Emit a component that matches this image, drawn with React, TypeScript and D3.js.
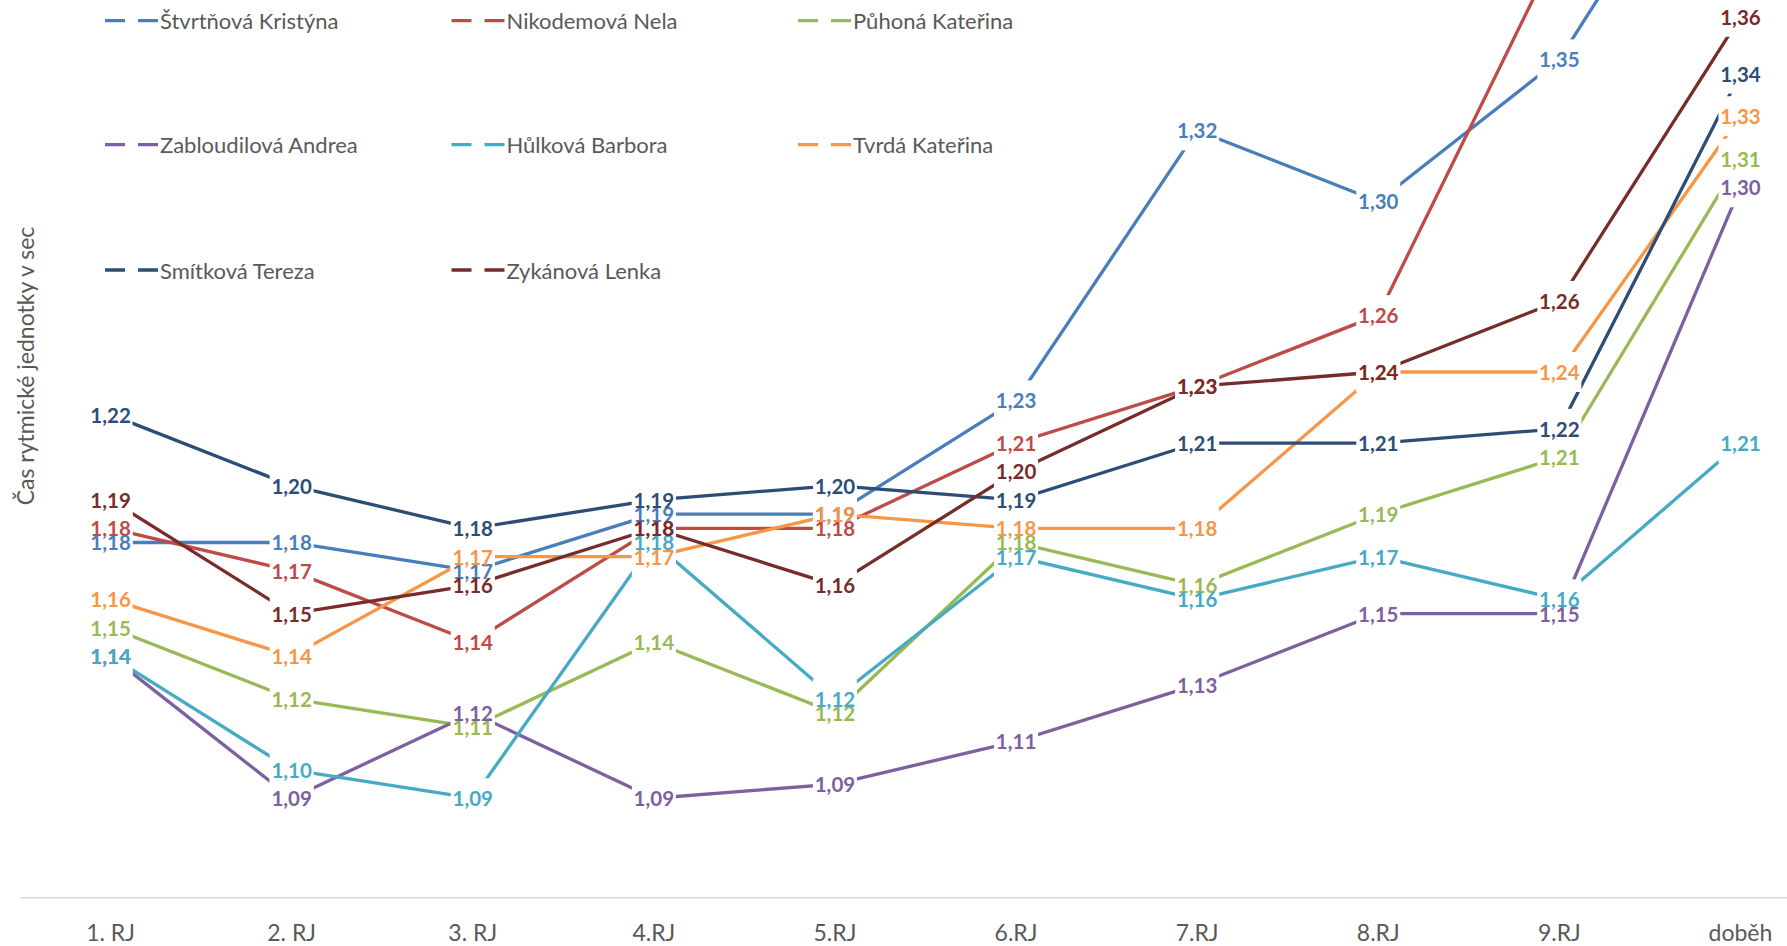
import React from 'react';
import * as d3 from 'd3';

const categories = ["1. RJ", "2. RJ", "3. RJ", "4.RJ", "5.RJ", "6.RJ", "7.RJ", "8.RJ", "9.RJ", "doběh"];

const seriesNames = [
  "Štvrtňová Kristýna",
  "Nikodemová Nela",
  "Půhoná Kateřina",
  "Zabloudilová Andrea",
  "Hůlková Barbora",
  "Tvrdá Kateřina",
  "Smítková Tereza",
  "Zykánová Lenka",
];

const seriesColors = ["#4A7EBB", "#BE4B48", "#98B954", "#7D60A0", "#46AAC5", "#F79646", "#2C4D75", "#772C2A"];

const stvrtnova = [1.175, 1.175, 1.165, 1.185, 1.185, 1.225, 1.32, 1.295, 1.345, 1.445];
const nikodemova = [1.18, 1.165, 1.14, 1.18, 1.18, 1.21, 1.23, 1.255, 1.385, 1.39];
const puhona = [1.145, 1.12, 1.11, 1.14, 1.115, 1.175, 1.16, 1.185, 1.205, 1.31];
const zabloudilova = [1.135, 1.085, 1.115, 1.085, 1.09, 1.105, 1.125, 1.15, 1.15, 1.3];
const hulkova = [1.135, 1.095, 1.085, 1.175, 1.12, 1.17, 1.155, 1.17, 1.155, 1.21];
const tvrda = [1.155, 1.135, 1.17, 1.17, 1.185, 1.18, 1.18, 1.235, 1.235, 1.325];
const smitkova = [1.22, 1.195, 1.18, 1.19, 1.195, 1.19, 1.21, 1.21, 1.215, 1.34];
const zykanova = [1.19, 1.15, 1.16, 1.18, 1.16, 1.2, 1.23, 1.235, 1.26, 1.36];

const seriesValues = [stvrtnova, nikodemova, puhona, zabloudilova, hulkova, tvrda, smitkova, zykanova];

const yDomain = [1.05, 1.4];
const yTitle = "Čas rytmické jednotky v sec";

const W = 1787;
const H = 946;
const FONT = "Lato, 'Open Sans', sans-serif";
const GRAY = "#595959";

function fmt(v: number) {
  const r = Math.round(v * 100 + 1e-6) / 100;
  return r.toFixed(2).replace('.', ',');
}

export default function App() {
  const x = d3.scalePoint<string>().domain(categories).range([20, 1831]).padding(0.5);
  const y = d3.scaleLinear().domain(yDomain).range([897.7, -96.9]);
  const line = d3.line<number>()
    .x((_, i) => x(categories[i]) as number)
    .y((d) => y(d));

  const legendCols = [105, 451.5, 798];
  const legendRows = [20.7, 144.7, 270];

  const boxW = 44;
  const boxH = 40;

  return (
    <svg width={W} height={H} style={{ position: 'absolute', left: 0, top: 0, background: '#fff' }}>
      <rect x={0} y={0} width={W} height={H} fill="#fff" />
      {/* axis line */}
      <line x1={20} x2={W} y1={y(yDomain[0])} y2={y(yDomain[0])} stroke="#D9D9D9" strokeWidth={1.5} />
      {/* x labels */}
      {categories.map((c) => (
        <text key={c} x={x(c)} y={931.7} textAnchor="middle" dominantBaseline="central"
          fontFamily={FONT} fontSize={23} fill={GRAY}>{c}</text>
      ))}
      {/* y title */}
      <text transform={`translate(25,366) rotate(-90)`} textAnchor="middle" dominantBaseline="central"
        fontFamily={FONT} fontSize={23} fill={GRAY}>{yTitle}</text>
      {/* lines */}
      {seriesValues.map((vals, si) => (
        <path key={si} d={line(vals) || ''} fill="none" stroke={seriesColors[si]} strokeWidth={3.3}
          strokeLinejoin="round" strokeLinecap="round" />
      ))}
      {/* label masks */}
      {seriesValues.map((vals, si) => vals.map((v, i) => (
        <rect key={`m${si}-${i}`} x={(x(categories[i]) as number) - boxW / 2} y={y(v) - boxH / 2}
          width={boxW} height={boxH} fill="#fff" />
      )))}
      {/* labels */}
      {seriesValues.map((vals, si) => vals.map((v, i) => (
        <text key={`t${si}-${i}`} x={x(categories[i])} y={y(v)} textAnchor="middle" dominantBaseline="central"
          fontFamily={FONT} fontWeight="bold" fontSize={20.5} fill={seriesColors[si]}>{fmt(v)}</text>
      )))}
      {/* legend */}
      {seriesNames.map((name, si) => {
        const lx = legendCols[si % 3];
        const ly = legendRows[Math.floor(si / 3)];
        return (
          <g key={name}>
            <line x1={lx} x2={lx + 53} y1={ly} y2={ly} stroke={seriesColors[si]} strokeWidth={3.3}
              strokeDasharray="20 13" />
            <text x={lx + 55} y={ly} dominantBaseline="central" fontFamily={FONT} fontSize={22} fill={GRAY}>{name}</text>
          </g>
        );
      })}
    </svg>
  );
}
